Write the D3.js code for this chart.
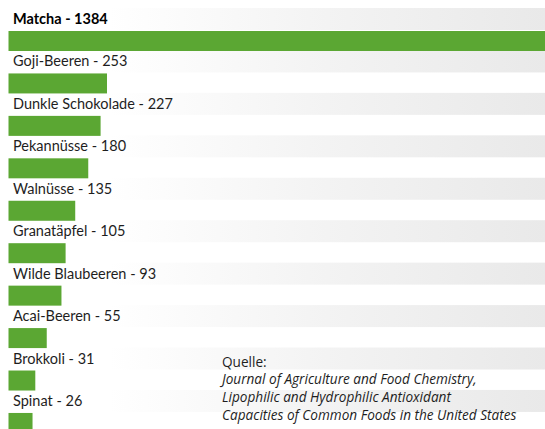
<!DOCTYPE html>
<head>
    <meta charset='utf-8'>
    <style>
        body {
            margin: 0;
            background: #fff;
            font-family: 'Lato', 'Open Sans', sans-serif;
        }
        .label {
            font-size: 14.5px;
            fill: #1e1e1e;
        }
        .label.top {
            font-weight: bold;
            fill: #000;
        }
        .source {
            font-family: 'Open Sans', sans-serif;
            font-size: 13.6px;
            fill: #1e1e1e;
        }
    </style>
</head>

<body>
<div id='vis'></div>
<script src='https://d3js.org/d3.v7.min.js'></script>
<script>
  const W = 545, H = 429

  // data
  const foods = ['Matcha', 'Goji-Beeren', 'Dunkle Schokolade', 'Pekannüsse', 'Walnüsse',
    'Granatäpfel', 'Wilde Blaubeeren', 'Acai-Beeren', 'Brokkoli', 'Spinat']
  const values = [1384, 253, 227, 180, 135, 105, 93, 55, 31, 26]
  const sourceLines = ['Quelle:',
    'Journal of Agriculture and Food Chemistry,',
    'Lipophilic and Hydrophilic Antioxidant',
    'Capacities of Common Foods in the United States']

  const data = foods.map((f, i) => ({name: f, value: values[i]}))

  const left = 8.5
  const green = '#5ba733'

  // rows: label band (grey) + bar band (white)
  const row = d3.scaleBand()
    .domain(foods)
    .range([9, 9 + foods.length * 42.44])
    .paddingInner(0)

  const labelH = 22, barH = 20

  // bar length scale (not linear in the original infographic) - Matcha runs off the scale
  const x = d3.scalePow()
    .exponent(0.62)
    .domain([0, 253])
    .range([0, 98.5])

  const svg = d3.select('#vis')
    .append('svg')
    .attr('width', W)
    .attr('height', H)

  const defs = svg.append('defs')
  const grad = defs.append('linearGradient')
    .attr('id', 'stripe')
    .attr('gradientUnits', 'userSpaceOnUse')
    .attr('x1', 0).attr('x2', W)
    .attr('y1', 0).attr('y2', 0)
  grad.append('stop').attr('offset', '0.2').attr('stop-color', '#ffffff')
  grad.append('stop').attr('offset', '0.6').attr('stop-color', '#f3f3f3')
  grad.append('stop').attr('offset', '1').attr('stop-color', '#e9e9e9')

  // grey stripes behind the labels
  svg.append('g')
    .selectAll('rect')
    .data(data)
    .join('rect')
    .attr('x', 0)
    .attr('y', d => row(d.name) - 1)
    .attr('width', W)
    .attr('height', labelH)
    .attr('fill', 'url(#stripe)')

  // bars
  svg.append('g')
    .selectAll('rect')
    .data(data)
    .join('rect')
    .attr('x', left)
    .attr('y', d => row(d.name) + labelH)
    .attr('width', d => d.value > x.domain()[1] ? W - left : x(d.value))
    .attr('height', barH)
    .attr('fill', green)

  // labels
  svg.append('g')
    .selectAll('text')
    .data(data)
    .join('text')
    .attr('class', (d, i) => i === 0 ? 'label top' : 'label')
    .attr('x', 13)
    .attr('y', d => row(d.name) + labelH - 7)
    .text(d => `${d.name} - ${d.value}`)

  // source
  svg.append('g')
    .selectAll('text')
    .data(sourceLines)
    .join('text')
    .attr('class', 'source')
    .attr('x', 222)
    .attr('y', (d, i) => 366.5 + i * 17.8)
    .attr('font-style', (d, i) => i === 0 ? 'normal' : 'italic')
    .text(d => d)
</script>
</body>
